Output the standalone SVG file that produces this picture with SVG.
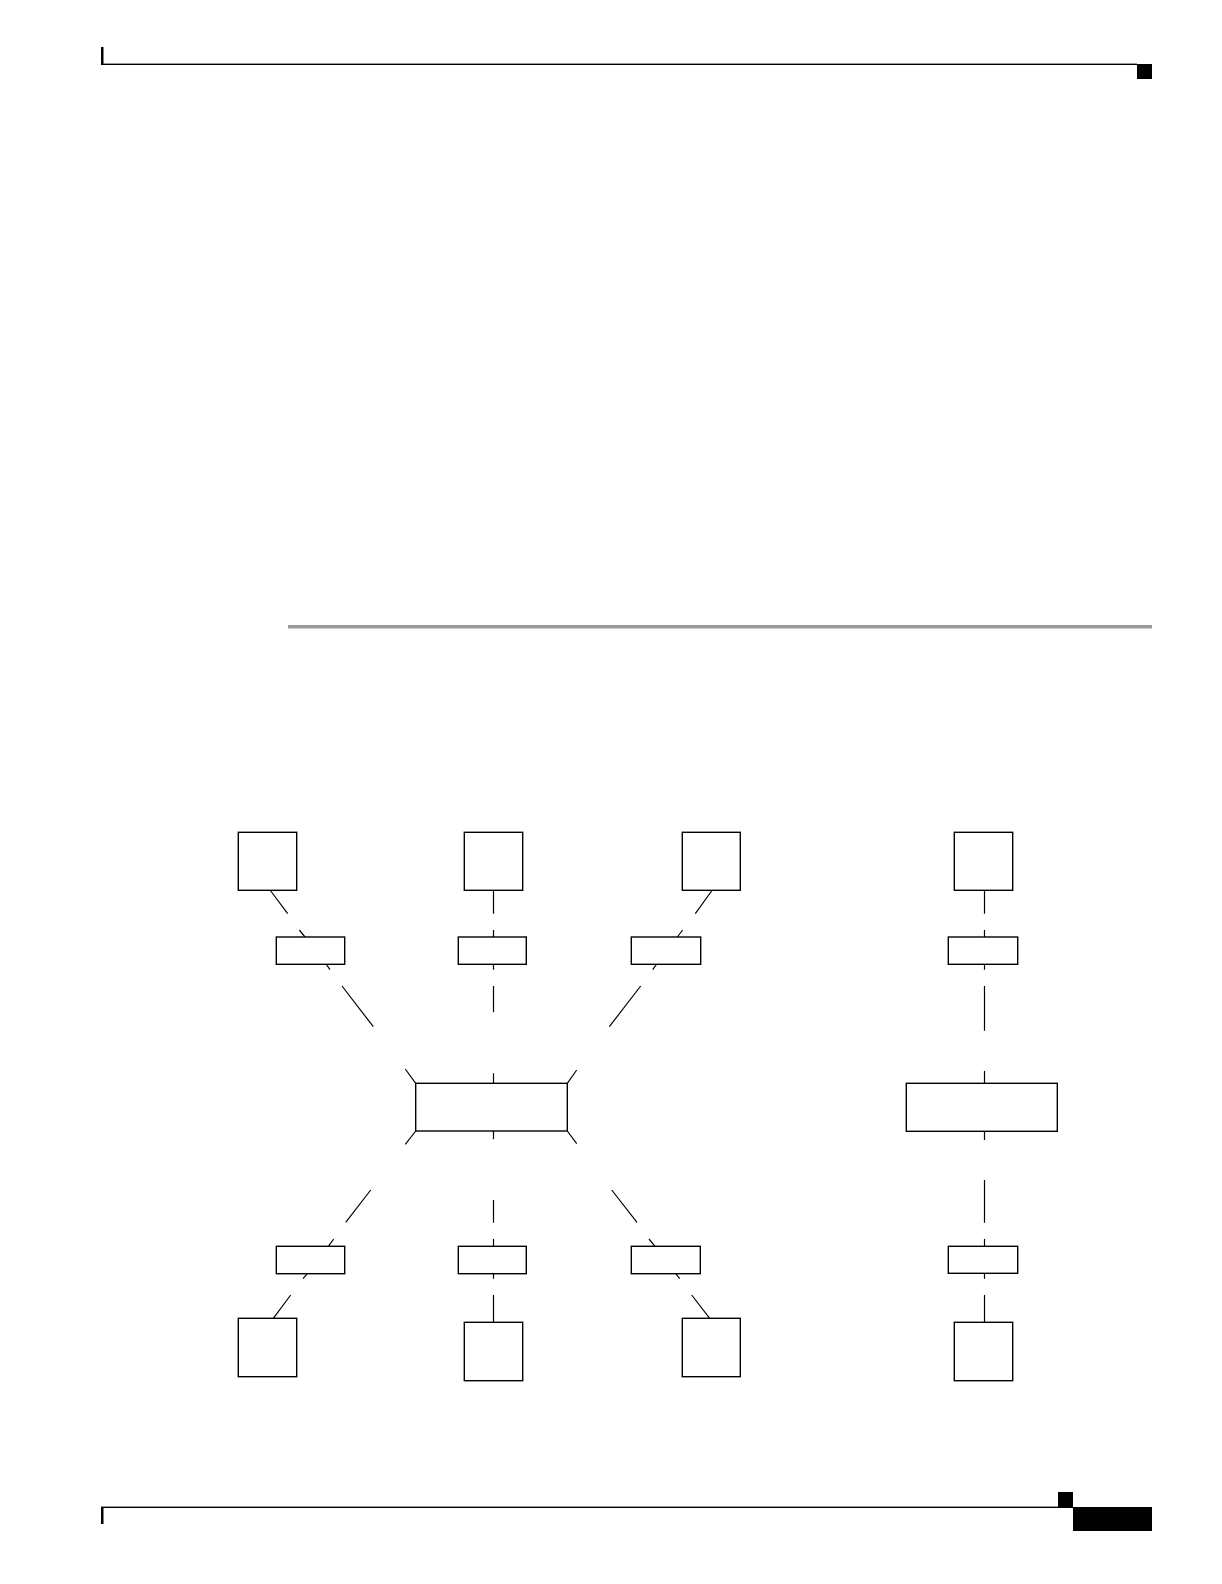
<svg xmlns="http://www.w3.org/2000/svg" width="1222" height="1584" viewBox="0 0 1222 1584">
<style>
.box{fill:#fff;stroke:#000;stroke-width:1.4}
.ln{stroke:#000;stroke-width:1.2;fill:none}
</style>
<rect width="1222" height="1584" fill="#fff"/>
<g id="page">
<rect x="101" y="47" width="2.5" height="18" fill="#000"/>
<rect x="101" y="63.6" width="1036" height="1.4" fill="#000"/>
<rect x="1137" y="64" width="15" height="15" fill="#000"/>
<rect x="288" y="625" width="864" height="3.5" fill="#999"/>
<rect x="101" y="1507" width="2.5" height="17" fill="#000"/>
<rect x="101" y="1506.6" width="972" height="1.4" fill="#000"/>
<rect x="1058" y="1492" width="15" height="15" fill="#000"/>
<rect x="1073" y="1507" width="79" height="24" fill="#000"/>
</g>
<g id="connectors" class="ln">
<path d="M270 890L287.7 913.7M299.3 930L305 937M326 964L330 969.7M342 986L373.3 1026.7"/>
<path d="M493.5 890V913.7M493.5 930V937M493.5 964V969.7M493.5 986V1012.3M493.5 1073.3V1083.3M493.5 1131V1139.3M493.5 1200V1222.7M493.5 1239V1246.3M493.5 1273.7V1278.7M493.5 1295V1322.3"/>
<path d="M712.3 890L695.3 913.7M682.7 930L677.3 937M656.7 964L652.7 969.7M640.7 986L609.3 1026.7"/>
<path d="M984.5 890V913.7M984.5 930V937M984.5 964V969.7M984.5 986V1030.7M984.5 1071V1083.3M984.5 1131.3V1140M984.5 1180V1222.7M984.5 1239V1246.3M984.5 1273.3V1278.7M984.5 1295V1322.3"/>
<path d="M405.3 1069L415.7 1083.3M576.7 1070L567.3 1083.3M405.3 1144.3L415.7 1131M576.7 1143.7L567.3 1131"/>
<path d="M370.7 1190L345.7 1222.3M333.7 1239L328.3 1246.3M307.3 1273.7L303 1278.7M290.7 1295L273.3 1318.3"/>
<path d="M611.7 1190L637 1222.3M649 1239L655 1246.3M675.7 1273.7L679.7 1278.7M691.7 1295L709.7 1318.3"/>
</g>
<g id="n-top1"><rect class="box" x="238.3" y="832.3" width="58.4" height="58"/></g>
<g id="n-top2"><rect class="box" x="464.3" y="832.3" width="58.4" height="58"/></g>
<g id="n-top3"><rect class="box" x="682.3" y="832.3" width="58" height="58"/></g>
<g id="n-top4"><rect class="box" x="954.3" y="832.3" width="58.4" height="58"/></g>
<g id="n-mt1"><rect class="box" x="276.3" y="937" width="68.4" height="27.3"/></g>
<g id="n-mt2"><rect class="box" x="458.3" y="937" width="68" height="27.3"/></g>
<g id="n-mt3"><rect class="box" x="631.3" y="937" width="69.4" height="27.3"/></g>
<g id="n-mt4"><rect class="box" x="948.3" y="937" width="69.4" height="27.3"/></g>
<g id="n-center"><rect class="box" x="415.7" y="1083.3" width="151.6" height="47.7"/></g>
<g id="n-right"><rect class="box" x="906.3" y="1083.3" width="151" height="48"/></g>
<g id="n-mb1"><rect class="box" x="276.3" y="1246.3" width="68.4" height="27.4"/></g>
<g id="n-mb2"><rect class="box" x="458.3" y="1246.3" width="68" height="27.4"/></g>
<g id="n-mb3"><rect class="box" x="631.3" y="1246.3" width="69" height="27.4"/></g>
<g id="n-mb4"><rect class="box" x="948.3" y="1246.3" width="69.4" height="27"/></g>
<g id="n-bot1"><rect class="box" x="238.3" y="1318.3" width="58.4" height="58.4"/></g>
<g id="n-bot2"><rect class="box" x="464.3" y="1322.3" width="58.4" height="58.4"/></g>
<g id="n-bot3"><rect class="box" x="682.3" y="1318.3" width="58" height="58.4"/></g>
<g id="n-bot4"><rect class="box" x="954.3" y="1322.3" width="58.4" height="58.4"/></g>
</svg>
